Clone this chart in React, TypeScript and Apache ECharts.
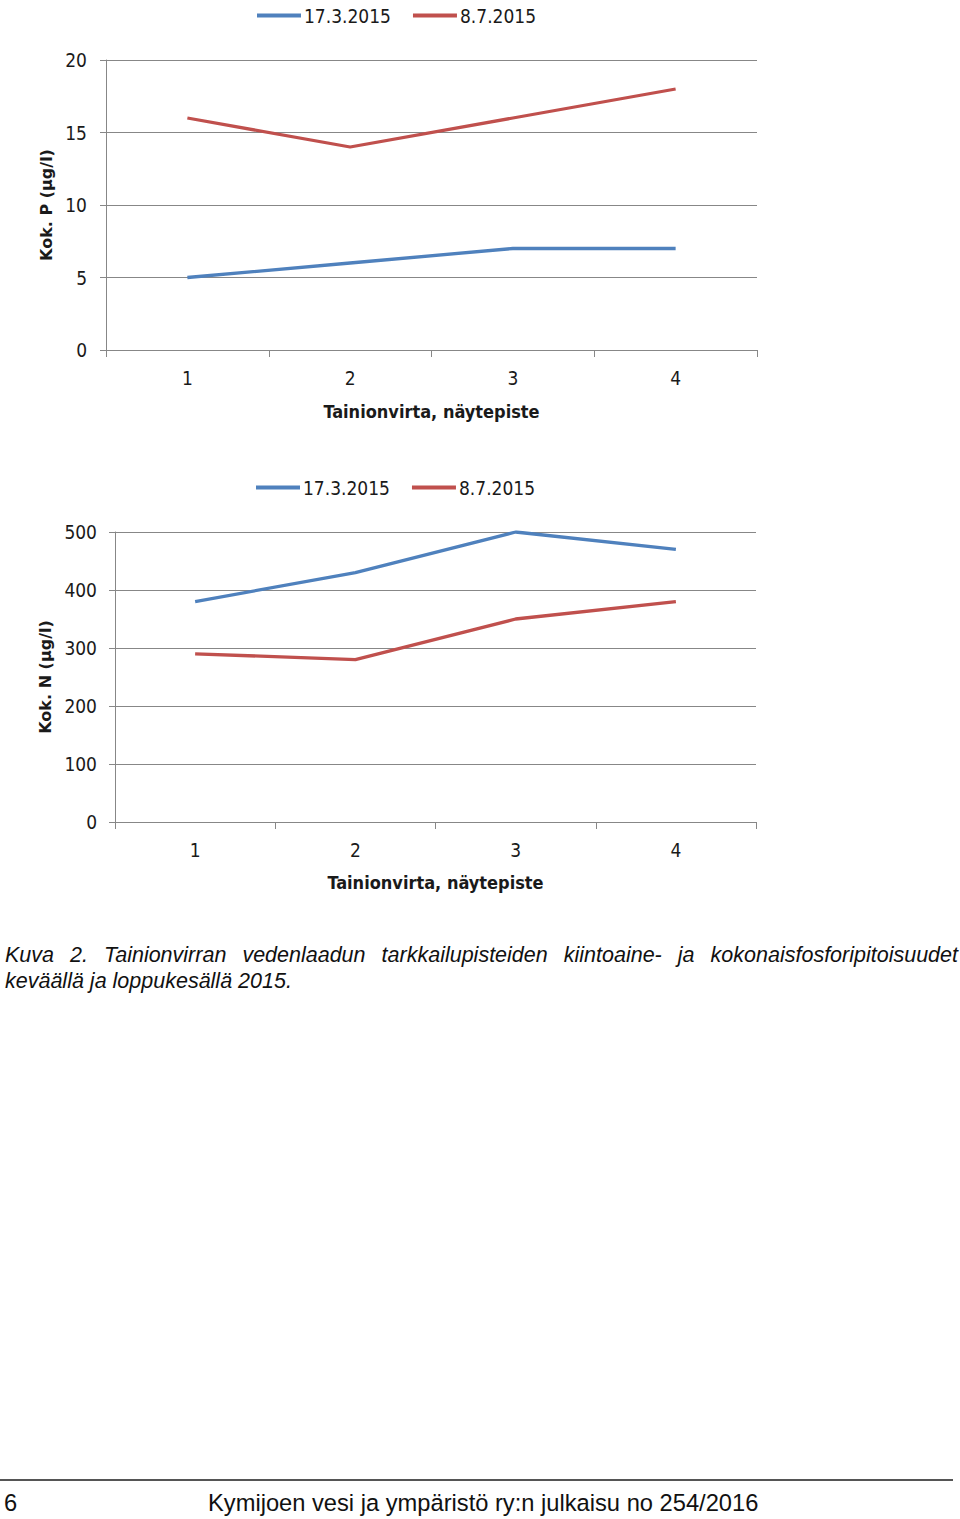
import React, { useEffect, useRef } from "react";
import * as echarts from "echarts";

const categories = ["1", "2", "3", "4"];
const seriesNames = ["17.3.2015", "8.7.2015"];
const pSpring = [5, 6, 7, 7];
const pSummer = [16, 14, 16, 18];
const nSpring = [380, 430, 500, 470];
const nSummer = [290, 280, 350, 380];
const pAxis = { min: 0, max: 20, interval: 5, name: "Kok. P (µg/l)" };
const nAxis = { min: 0, max: 500, interval: 100, name: "Kok. N (µg/l)" };
const xName = "Tainionvirta, näytepiste";
const captionLine1 = "Kuva 2. Tainionvirran vedenlaadun tarkkailupisteiden kiintoaine- ja kokonaisfosforipitoisuudet";
const captionLine2 = "keväällä ja loppukesällä 2015.";
const footerPage = "6";
const footerText = "Kymijoen vesi ja ympäristö ry:n julkaisu no 254/2016";

const BLUE = "#4F81BD";
const RED = "#C0504D";
const GRID = "#878787";
const NARROW = "'Liberation Sans Narrow', 'DejaVu Sans Condensed', 'Arial Narrow', sans-serif";
const BOLDNAME = "'DejaVu Sans', Verdana, sans-serif";

export default function App() {
  const ref = useRef<HTMLDivElement>(null);
  useEffect(() => {
    document.body.style.margin = "0";
    if (!ref.current) return;
    const chart = echarts.init(ref.current, undefined, { renderer: "svg" });
    const xAxisBase = (gridIndex: number, gap: number) => ({
      type: "category",
      gridIndex,
      data: categories,
      boundaryGap: true,
      name: xName,
      nameLocation: "middle",
      nameGap: gap,
      nameTextStyle: { fontFamily: NARROW, fontWeight: "bold", fontSize: 18, color: "#1a1a1a" },
      axisLine: { show: true, lineStyle: { color: GRID, width: 1 } },
      axisTick: { show: true, length: 7, alignWithLabel: false, lineStyle: { color: GRID } },
      axisLabel: { fontFamily: NARROW, fontSize: 19, color: "#1a1a1a", margin: 18 },
      splitLine: { show: false },
    });
    const yAxisBase = (gridIndex: number, ax: any, gap: number, margin: number) => ({
      type: "value",
      gridIndex,
      min: ax.min,
      max: ax.max,
      interval: ax.interval,
      name: ax.name,
      nameLocation: "middle",
      nameGap: gap,
      nameTextStyle: { fontFamily: BOLDNAME, fontWeight: "bold", fontSize: 16, color: "#1a1a1a" },
      axisLine: { show: true, lineStyle: { color: GRID, width: 1 } },
      axisTick: { show: true, length: 6, lineStyle: { color: GRID } },
      axisLabel: { fontFamily: NARROW, fontSize: 19, color: "#1a1a1a", margin: margin },
      splitLine: { show: true, lineStyle: { color: GRID, width: 1 } },
    });
    const lineSeries = (name: string, data: number[], color: string, idx: number) => ({
      type: "line",
      name,
      data,
      xAxisIndex: idx,
      yAxisIndex: idx,
      symbol: "none",
      lineStyle: { color, width: 3.3 },
      itemStyle: { color },
    });
    const legendBase = (left: number, top: number) => ({
      left,
      top,
      padding: 0,
      itemWidth: 44,
      itemHeight: 4,
      itemGap: 22,
      icon: "rect",
      data: seriesNames,
      textStyle: { fontFamily: NARROW, fontSize: 19, color: "#1a1a1a", padding: [0, 0, 0, -2] },
    });
    chart.setOption({
      animation: false,
      backgroundColor: "#ffffff",
      legend: [legendBase(257, 6), legendBase(256, 478)],
      grid: [
        { left: 106, top: 60, width: 651, height: 290 },
        { left: 115, top: 532, width: 641, height: 290 },
      ],
      xAxis: [xAxisBase(0, 52), xAxisBase(1, 51)],
      yAxis: [yAxisBase(0, pAxis, 52, 19), yAxisBase(1, nAxis, 61, 18)],
      series: [
        lineSeries(seriesNames[0], pSpring, BLUE, 0),
        lineSeries(seriesNames[1], pSummer, RED, 0),
        lineSeries(seriesNames[0], nSpring, BLUE, 1),
        lineSeries(seriesNames[1], nSummer, RED, 1),
      ],
    });
    return () => chart.dispose();
  }, []);

  const captionStyle: React.CSSProperties = {
    fontFamily: "'Liberation Sans', Arial, sans-serif",
    fontStyle: "italic",
    fontSize: 21.5,
    lineHeight: "26px",
    color: "#111",
    whiteSpace: "nowrap",
  };

  const footerStyle: React.CSSProperties = {
    position: "absolute",
    top: 1489,
    fontFamily: "'Liberation Sans', Arial, sans-serif",
    fontSize: 23.7,
    lineHeight: "28px",
    color: "#111",
    whiteSpace: "nowrap",
  };

  return (
    <div style={{ position: "absolute", left: 0, top: 0, width: 960, height: 1519, background: "#fff", overflow: "hidden" }}>
      <div ref={ref} style={{ position: "absolute", left: 0, top: 0, width: 960, height: 920 }} />
      <div style={{ position: "absolute", left: 5, top: 942, width: 953 }}>
        <div style={{ ...captionStyle, whiteSpace: "normal", textAlign: "justify", textAlignLast: "justify" }}>{captionLine1}</div>
        <div style={captionStyle}>{captionLine2}</div>
      </div>
      <div style={{ position: "absolute", left: 0, top: 1479, width: 953, height: 2, background: "#555" }} />
      <div style={{ ...footerStyle, left: 4 }}>{footerPage}</div>
      <div style={{ ...footerStyle, left: 208 }}>{footerText}</div>
    </div>
  );
}
